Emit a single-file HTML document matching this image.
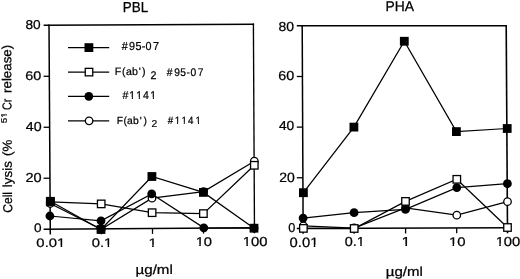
<!DOCTYPE html>
<html><head><meta charset="utf-8"><title>Cell lysis</title><style>
html,body{margin:0;padding:0;background:#fff;}
body{width:520px;height:279px;overflow:hidden;}
svg{display:block;will-change:transform;}
text{font-family:"Liberation Sans", sans-serif;fill:#000;stroke:#000;stroke-width:0.25px;font-kerning:none;text-rendering:geometricPrecision;}
</style></head><body>
<svg width="520" height="279" viewBox="0 0 520 279">
<rect width="520" height="279" fill="#fff"/>
<g><line x1="43.60" y1="25.35" x2="254.15" y2="24.20" stroke="#000" stroke-width="1.5"/><line x1="43.60" y1="229.20" x2="255.25" y2="227.85" stroke="#000" stroke-width="1.5"/><line x1="49.00" y1="24.60" x2="50.30" y2="234.60" stroke="#000" stroke-width="1.5"/><line x1="253.40" y1="23.45" x2="254.50" y2="233.25" stroke="#000" stroke-width="1.35"/><line x1="43.60" y1="178.24" x2="49.97" y2="178.24" stroke="#000" stroke-width="1.3"/><line x1="43.60" y1="127.27" x2="49.65" y2="127.27" stroke="#000" stroke-width="1.3"/><line x1="43.60" y1="76.31" x2="49.33" y2="76.31" stroke="#000" stroke-width="1.3"/><line x1="101.30" y1="228.86" x2="101.30" y2="234.26" stroke="#000" stroke-width="1.3"/><line x1="152.50" y1="228.52" x2="152.50" y2="233.92" stroke="#000" stroke-width="1.3"/><line x1="203.50" y1="228.19" x2="203.50" y2="233.59" stroke="#000" stroke-width="1.3"/><line x1="296.80" y1="25.85" x2="506.95" y2="25.85" stroke="#000" stroke-width="1.5"/><line x1="296.80" y1="228.40" x2="508.25" y2="227.80" stroke="#000" stroke-width="1.5"/><line x1="302.20" y1="25.10" x2="303.15" y2="233.80" stroke="#000" stroke-width="1.5"/><line x1="506.20" y1="25.10" x2="507.50" y2="233.20" stroke="#000" stroke-width="1.6"/><line x1="296.80" y1="177.76" x2="302.91" y2="177.76" stroke="#000" stroke-width="1.3"/><line x1="296.80" y1="127.12" x2="302.67" y2="127.12" stroke="#000" stroke-width="1.3"/><line x1="296.80" y1="76.49" x2="302.44" y2="76.49" stroke="#000" stroke-width="1.3"/><line x1="354.10" y1="228.25" x2="354.10" y2="233.65" stroke="#000" stroke-width="1.3"/><line x1="405.60" y1="228.10" x2="405.60" y2="233.50" stroke="#000" stroke-width="1.3"/><line x1="456.70" y1="227.95" x2="456.70" y2="233.35" stroke="#000" stroke-width="1.3"/></g>
<g><polyline points="50.20,203.50 101.20,229.20 152.00,198.20 203.60,191.60 254.30,161.20" fill="none" stroke="#000" stroke-width="1.25"/><circle cx="50.20" cy="203.50" r="3.75" fill="#fff" stroke="#000" stroke-width="1.3"/><circle cx="101.20" cy="229.20" r="3.75" fill="#fff" stroke="#000" stroke-width="1.3"/><circle cx="152.00" cy="198.20" r="3.75" fill="#fff" stroke="#000" stroke-width="1.3"/><circle cx="203.60" cy="191.60" r="3.75" fill="#fff" stroke="#000" stroke-width="1.3"/><circle cx="254.30" cy="161.20" r="3.75" fill="#fff" stroke="#000" stroke-width="1.3"/><polyline points="49.90,216.00 101.00,220.80 151.70,193.90 203.80,227.80 254.00,228.20" fill="none" stroke="#000" stroke-width="1.25"/><circle cx="49.90" cy="216.00" r="4.40"/><circle cx="101.00" cy="220.80" r="4.40"/><circle cx="151.70" cy="193.90" r="4.40"/><circle cx="203.80" cy="227.80" r="4.40"/><circle cx="254.00" cy="228.20" r="4.40"/><polyline points="50.30,201.80 101.20,203.90 152.10,212.70 203.40,213.60 254.30,165.30" fill="none" stroke="#000" stroke-width="1.25"/><rect x="46.55" y="198.05" width="7.50" height="7.50" fill="#fff" stroke="#000" stroke-width="1.3"/><rect x="97.45" y="200.15" width="7.50" height="7.50" fill="#fff" stroke="#000" stroke-width="1.3"/><rect x="148.35" y="208.95" width="7.50" height="7.50" fill="#fff" stroke="#000" stroke-width="1.3"/><rect x="199.65" y="209.85" width="7.50" height="7.50" fill="#fff" stroke="#000" stroke-width="1.3"/><rect x="250.55" y="161.55" width="7.50" height="7.50" fill="#fff" stroke="#000" stroke-width="1.3"/><polyline points="50.40,201.30 101.00,229.50 151.90,176.50 203.40,192.40 254.00,228.20" fill="none" stroke="#000" stroke-width="1.25"/><rect x="46.00" y="196.90" width="8.8" height="8.8"/><rect x="96.60" y="225.10" width="8.8" height="8.8"/><rect x="147.50" y="172.10" width="8.8" height="8.8"/><rect x="199.00" y="188.00" width="8.8" height="8.8"/><rect x="249.60" y="223.80" width="8.8" height="8.8"/><polyline points="303.30,225.90 354.10,228.00 405.50,208.00 456.80,215.20 507.50,201.70" fill="none" stroke="#000" stroke-width="1.25"/><circle cx="303.30" cy="225.90" r="3.75" fill="#fff" stroke="#000" stroke-width="1.3"/><circle cx="354.10" cy="228.00" r="3.75" fill="#fff" stroke="#000" stroke-width="1.3"/><circle cx="405.50" cy="208.00" r="3.75" fill="#fff" stroke="#000" stroke-width="1.3"/><circle cx="456.80" cy="215.20" r="3.75" fill="#fff" stroke="#000" stroke-width="1.3"/><circle cx="507.50" cy="201.70" r="3.75" fill="#fff" stroke="#000" stroke-width="1.3"/><polyline points="303.10,218.10 354.10,212.70 405.50,209.40 456.80,187.60 507.40,183.70" fill="none" stroke="#000" stroke-width="1.25"/><circle cx="303.10" cy="218.10" r="4.40"/><circle cx="354.10" cy="212.70" r="4.40"/><circle cx="405.50" cy="209.40" r="4.40"/><circle cx="456.80" cy="187.60" r="4.40"/><circle cx="507.40" cy="183.70" r="4.40"/><polyline points="303.40,228.40 354.20,228.50 405.50,201.40 456.80,179.30 507.50,227.50" fill="none" stroke="#000" stroke-width="1.25"/><rect x="299.65" y="224.65" width="7.50" height="7.50" fill="#fff" stroke="#000" stroke-width="1.3"/><rect x="350.45" y="224.75" width="7.50" height="7.50" fill="#fff" stroke="#000" stroke-width="1.3"/><rect x="401.75" y="197.65" width="7.50" height="7.50" fill="#fff" stroke="#000" stroke-width="1.3"/><rect x="453.05" y="175.55" width="7.50" height="7.50" fill="#fff" stroke="#000" stroke-width="1.3"/><rect x="503.75" y="223.75" width="7.50" height="7.50" fill="#fff" stroke="#000" stroke-width="1.3"/><polyline points="303.40,192.70 353.90,127.10 404.30,41.25 456.40,131.60 507.20,128.50" fill="none" stroke="#000" stroke-width="1.25"/><rect x="299.00" y="188.30" width="8.8" height="8.8"/><rect x="349.50" y="122.70" width="8.8" height="8.8"/><rect x="399.90" y="36.85" width="8.8" height="8.8"/><rect x="452.00" y="127.20" width="8.8" height="8.8"/><rect x="502.80" y="124.10" width="8.8" height="8.8"/></g>
<g><line x1="68.00" y1="47.60" x2="109.20" y2="47.60" stroke="#000" stroke-width="1.25"/><rect x="84.50" y="43.20" width="8.8" height="8.8"/><line x1="68.00" y1="72.10" x2="109.20" y2="72.10" stroke="#000" stroke-width="1.25"/><rect x="85.25" y="68.35" width="7.50" height="7.50" fill="#fff" stroke="#000" stroke-width="1.3"/><line x1="68.00" y1="96.30" x2="109.20" y2="96.30" stroke="#000" stroke-width="1.25"/><circle cx="88.80" cy="96.30" r="4.40"/><line x1="68.00" y1="120.80" x2="109.20" y2="120.80" stroke="#000" stroke-width="1.25"/><circle cx="89.10" cy="120.80" r="3.75" fill="#fff" stroke="#000" stroke-width="1.3"/></g>
<g><g transform="translate(25.455,29.424) scale(0.9780,0.9181)"><text x="0" y="0" style="font-size:14.0px">80</text></g><g transform="translate(25.320,80.327) scale(1.0269,0.8979)"><text x="0" y="0" style="font-size:14.0px">60</text></g><g transform="translate(25.823,130.523) scale(1.0167,0.9282)"><text x="0" y="0" style="font-size:14.0px">40</text></g><g transform="translate(25.520,181.523) scale(1.0369,0.9282)"><text x="0" y="0" style="font-size:14.0px">20</text></g><g transform="translate(34.119,231.829) scale(0.9713,0.8878)"><text x="0" y="0" style="font-size:14.0px">0</text></g><g transform="translate(278.442,31.423) scale(0.9988,0.9282)"><text x="0" y="0" style="font-size:14.0px">80</text></g><g transform="translate(278.320,79.523) scale(1.0269,0.9282)"><text x="0" y="0" style="font-size:14.0px">60</text></g><g transform="translate(278.933,130.223) scale(0.9861,0.9282)"><text x="0" y="0" style="font-size:14.0px">40</text></g><g transform="translate(279.247,181.519) scale(0.9985,0.9584)"><text x="0" y="0" style="font-size:14.0px">20</text></g><g transform="translate(288.152,231.624) scale(0.9115,0.9181)"><text x="0" y="0" style="font-size:14.0px">0</text></g><g transform="translate(36.370,247.130) scale(1.0603,0.8777)"><text x="0" y="0" style="font-size:14.0px">0.01</text><rect x="19.728" y="-2.046" width="3.134" height="3.346" fill="#fff"/><rect x="24.350" y="-2.046" width="2.765" height="3.346" fill="#fff"/></g><g transform="translate(91.672,246.829) scale(1.0575,0.8878)"><text x="0" y="0" style="font-size:14.0px">0.1</text><rect x="11.942" y="-2.046" width="3.134" height="3.346" fill="#fff"/><rect x="16.564" y="-2.046" width="2.765" height="3.346" fill="#fff"/></g><g transform="translate(148.489,246.650) scale(1.0847,0.8825)"><text x="0" y="0" style="font-size:14.0px">1</text><rect x="0.266" y="-2.046" width="3.134" height="3.346" fill="#fff"/><rect x="4.888" y="-2.046" width="2.765" height="3.346" fill="#fff"/></g><g transform="translate(195.632,246.227) scale(1.0527,0.8979)"><text x="0" y="0" style="font-size:14.0px">10</text><rect x="0.266" y="-2.046" width="3.134" height="3.346" fill="#fff"/><rect x="4.888" y="-2.046" width="2.765" height="3.346" fill="#fff"/></g><g transform="translate(242.726,246.223) scale(1.0575,0.9282)"><text x="0" y="0" style="font-size:14.0px">100</text><rect x="0.266" y="-2.046" width="3.134" height="3.346" fill="#fff"/><rect x="4.888" y="-2.046" width="2.765" height="3.346" fill="#fff"/></g><g transform="translate(289.572,246.718) scale(1.0561,0.9685)"><text x="0" y="0" style="font-size:14.0px">0.01</text><rect x="19.728" y="-2.046" width="3.134" height="3.346" fill="#fff"/><rect x="24.350" y="-2.046" width="2.765" height="3.346" fill="#fff"/></g><g transform="translate(344.685,246.323) scale(1.0323,0.9282)"><text x="0" y="0" style="font-size:14.0px">0.1</text><rect x="11.942" y="-2.046" width="3.134" height="3.346" fill="#fff"/><rect x="16.564" y="-2.046" width="2.765" height="3.346" fill="#fff"/></g><g transform="translate(401.510,246.150) scale(1.1433,0.9240)"><text x="0" y="0" style="font-size:14.0px">1</text><rect x="0.266" y="-2.046" width="3.134" height="3.346" fill="#fff"/><rect x="4.888" y="-2.046" width="2.765" height="3.346" fill="#fff"/></g><g transform="translate(448.913,245.629) scale(1.0674,0.8878)"><text x="0" y="0" style="font-size:14.0px">10</text><rect x="0.266" y="-2.046" width="3.134" height="3.346" fill="#fff"/><rect x="4.888" y="-2.046" width="2.765" height="3.346" fill="#fff"/></g><g transform="translate(495.626,245.623) scale(1.0575,0.9282)"><text x="0" y="0" style="font-size:14.0px">100</text><rect x="0.266" y="-2.046" width="3.134" height="3.346" fill="#fff"/><rect x="4.888" y="-2.046" width="2.765" height="3.346" fill="#fff"/></g><g transform="translate(122.850,12.200) scale(0.9578,1.0330)"><text x="0" y="0" style="font-size:14.0px">PBL</text></g><g transform="translate(385.410,11.150) scale(0.9924,1.0019)"><text x="0" y="0" style="font-size:14.0px">PHA</text></g><g transform="translate(135.463,273.912) scale(1.0837,0.9425)"><text x="0" y="0" style="font-size:14.0px">µg/ml</text></g><g transform="translate(385.720,275.734) scale(1.0760,0.9349)"><text x="0" y="0" style="font-size:14.0px">µg/ml</text></g><g transform="translate(0,50.437) scale(0.8976,0.9651)"><text x="135.661 143.805 150.932 157.875 162.173 170.412" y="0" style="font-size:12px">#95-07</text></g><g transform="translate(0,75.350) scale(0.8855,0.8855)"><text x="129.675 137.919 142.252 149.035 156.835 160.501" y="0" style="font-size:12px">F(ab&#39;)</text></g><g transform="translate(150.609,78.950) scale(0.9778,1.0155)"><text x="0" y="0" style="font-size:11px">2</text></g><g transform="translate(0,75.642) scale(0.8538,0.9181)"><text x="195.424 204.044 211.139 218.298 223.179 231.641" y="0" style="font-size:12px">#95-07</text></g><g transform="translate(0,99.050) scale(0.8786,0.9448)"><text x="139.351 147.159 155.012 162.638 171.003" y="0" style="font-size:12px">#1141</text><rect x="147.273" y="-1.896" width="2.784" height="3.196" fill="#fff"/><rect x="151.367" y="-1.896" width="2.430" height="3.196" fill="#fff"/><rect x="155.126" y="-1.896" width="2.784" height="3.196" fill="#fff"/><rect x="159.220" y="-1.896" width="2.430" height="3.196" fill="#fff"/><rect x="171.117" y="-1.896" width="2.784" height="3.196" fill="#fff"/><rect x="175.211" y="-1.896" width="2.430" height="3.196" fill="#fff"/></g><g transform="translate(0,124.117) scale(0.8587,0.8587)"><text x="135.829 143.816 147.974 154.965 162.879 167.082" y="0" style="font-size:12px">F(ab&#39;)</text></g><g transform="translate(151.431,126.950) scale(0.9379,0.9114)"><text x="0" y="0" style="font-size:11px">2</text></g><g transform="translate(0,124.050) scale(0.8111,0.8721)"><text x="206.724 215.333 223.631 231.949 241.139" y="0" style="font-size:12px">#1141</text><rect x="215.447" y="-1.896" width="2.784" height="3.196" fill="#fff"/><rect x="219.541" y="-1.896" width="2.430" height="3.196" fill="#fff"/><rect x="223.745" y="-1.896" width="2.784" height="3.196" fill="#fff"/><rect x="227.839" y="-1.896" width="2.430" height="3.196" fill="#fff"/><rect x="241.253" y="-1.896" width="2.784" height="3.196" fill="#fff"/><rect x="245.347" y="-1.896" width="2.430" height="3.196" fill="#fff"/></g><g transform="translate(12.148,212.867) rotate(-90.37) scale(0.9346,1)"><text x="0" y="0" style="font-size:13.0px">Cell</text></g><g transform="translate(11.982,187.261) rotate(-90.37) scale(1.0405,1)"><text x="0" y="0" style="font-size:13.0px">lysis</text></g><g transform="translate(11.783,155.977) rotate(-90.37) scale(1.0261,1)"><text x="0" y="0" style="font-size:13.0px">(%</text></g><g transform="translate(6.826,123.348) rotate(-90.37) scale(1.2413,1)"><text x="0" y="0" style="font-size:8.0px">51</text><rect x="4.259" y="-1.598" width="2.082" height="2.898" fill="#fff"/><rect x="7.298" y="-1.598" width="1.760" height="2.898" fill="#fff"/></g><g transform="translate(11.489,109.895) rotate(-90.37) scale(0.8255,1)"><text x="0" y="0" style="font-size:13.0px">Cr</text></g><g transform="translate(11.379,92.934) rotate(-90.37) scale(1.0244,1)"><text x="0" y="0" style="font-size:13.0px">release)</text></g></g>
</svg>
</body></html>
